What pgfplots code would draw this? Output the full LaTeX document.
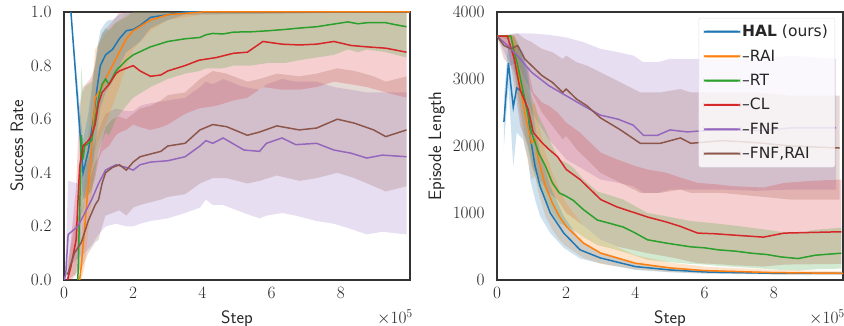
\documentclass[border=0pt]{standalone}
\usepackage{pgfplots}
\pgfplotsset{compat=1.18}
\usepackage{pgfplotstable}
\usepgfplotslibrary{fillbetween}
\usepackage{fontspec}
\newfontfamily\legfont{DejaVu Sans}
\definecolor{cB}{HTML}{1F77B4}
\definecolor{cO}{HTML}{FF7F0E}
\definecolor{cG}{HTML}{2CA02C}
\definecolor{cR}{HTML}{D62728}
\definecolor{cP}{HTML}{9467BD}
\definecolor{cN}{HTML}{8C564B}
\definecolor{axgray}{HTML}{333333}
\definecolor{txt}{HTML}{262626}

% ---------- Success rate ----------
\pgfplotstableread{
x m lo hi
0.20 1.00 1.00 1.00
0.55 0.40 0.30 0.52
0.70 0.48 0.36 0.62
0.85 0.60 0.45 0.76
0.95 0.71 0.55 0.86
1.05 0.80 0.64 0.93
1.20 0.84 0.70 0.96
1.30 0.85 0.72 0.97
1.40 0.86 0.74 0.97
1.50 0.88 0.77 0.98
1.60 0.90 0.80 0.99
1.80 0.93 0.85 1.00
2.00 0.935 0.87 1.00
2.20 0.95 0.89 1.00
2.50 0.98 0.94 1.00
3.00 0.99 0.97 1.00
3.50 1.00 0.99 1.00
10.0 1.00 1.00 1.00
}\tLB
\pgfplotstableread{
x m lo hi
0.45 0.00 0.00 0.02
0.50 0.05 0.00 0.15
0.60 0.20 0.05 0.38
0.70 0.35 0.18 0.55
0.80 0.50 0.30 0.70
0.90 0.68 0.48 0.86
1.00 0.70 0.52 0.88
1.10 0.72 0.55 0.90
1.20 0.75 0.58 0.92
1.40 0.80 0.65 0.95
1.60 0.85 0.72 0.97
1.80 0.90 0.80 0.99
2.00 0.93 0.86 1.00
2.50 0.97 0.93 1.00
3.00 0.99 0.97 1.00
4.00 1.00 0.99 1.00
10.0 1.00 1.00 1.00
}\tLO
\pgfplotstableread{
x m lo hi
0.40 0.00 0.00 0.05
0.46 0.30 0.05 0.55
0.50 0.54 0.25 0.80
0.55 0.45 0.25 0.70
0.60 0.50 0.30 0.72
0.80 0.52 0.33 0.74
0.90 0.60 0.40 0.80
1.00 0.68 0.48 0.88
1.10 0.73 0.52 0.92
1.20 0.75 0.55 0.94
1.30 0.73 0.54 0.93
1.50 0.78 0.60 0.96
1.80 0.82 0.65 0.98
2.00 0.84 0.68 1.00
2.50 0.87 0.72 1.00
3.00 0.89 0.75 1.00
3.50 0.90 0.77 1.00
3.93 0.905 0.78 1.00
4.10 0.915 0.79 1.00
4.30 0.92 0.79 1.00
4.60 0.918 0.79 1.00
4.90 0.925 0.80 1.00
5.40 0.926 0.80 1.00
5.90 0.93 0.81 1.00
6.40 0.935 0.81 1.00
6.80 0.94 0.82 1.00
7.30 0.945 0.83 1.00
7.80 0.955 0.84 1.00
8.20 0.963 0.86 1.00
8.50 0.956 0.85 1.00
8.75 0.96 0.86 1.00
9.30 0.96 0.85 1.00
9.60 0.952 0.84 1.00
9.90 0.945 0.83 1.00
}\tLG
\pgfplotstableread{
x m lo hi
0.10 0.00 0.00 0.02
0.20 0.05 0.00 0.15
0.35 0.15 0.02 0.35
0.45 0.42 0.20 0.65
0.55 0.50 0.30 0.72
0.70 0.52 0.32 0.74
0.80 0.54 0.34 0.76
0.90 0.58 0.38 0.80
1.00 0.66 0.45 0.88
1.10 0.70 0.48 0.92
1.30 0.73 0.50 0.95
1.50 0.77 0.54 0.98
1.60 0.78 0.55 1.00
1.80 0.79 0.56 1.00
2.00 0.80 0.58 1.00
2.20 0.78 0.57 1.00
2.50 0.76 0.56 1.00
2.80 0.765 0.57 1.00
3.00 0.78 0.58 1.00
3.50 0.80 0.62 1.00
3.90 0.82 0.64 1.00
4.40 0.83 0.65 1.00
4.90 0.846 0.67 1.00
5.30 0.85 0.68 1.00
5.75 0.89 0.72 1.00
6.30 0.88 0.71 1.00
6.80 0.877 0.71 1.00
7.30 0.88 0.72 1.00
7.80 0.89 0.74 1.00
8.30 0.875 0.73 1.00
8.75 0.87 0.72 1.00
9.30 0.865 0.70 1.00
9.90 0.85 0.68 1.00
}\tLR
\pgfplotstableread{
x m lo hi
0.00 0.00 0.00 0.00
0.05 0.02 0.00 0.10
0.12 0.17 0.05 0.37
0.40 0.20 0.08 0.36
0.60 0.25 0.10 0.42
0.80 0.30 0.13 0.48
1.00 0.36 0.17 0.56
1.20 0.41 0.20 0.62
1.50 0.43 0.21 0.64
1.80 0.42 0.20 0.63
2.00 0.41 0.20 0.63
2.20 0.43 0.21 0.65
2.50 0.44 0.22 0.66
3.00 0.445 0.23 0.67
3.50 0.46 0.25 0.68
3.93 0.50 0.27 0.72
4.10 0.52 0.30 0.74
4.30 0.51 0.28 0.73
4.60 0.53 0.28 0.75
5.20 0.485 0.25 0.72
5.65 0.48 0.23 0.71
5.85 0.51 0.24 0.73
6.30 0.53 0.25 0.75
6.70 0.505 0.24 0.74
7.30 0.51 0.22 0.74
7.80 0.485 0.21 0.72
8.30 0.473 0.19 0.71
8.75 0.455 0.17 0.70
9.20 0.466 0.18 0.70
9.90 0.46 0.17 0.70
}\tLP
\pgfplotstableread{
x m lo hi
0.10 0.02 0.00 0.06
0.30 0.10 0.02 0.20
0.50 0.14 0.04 0.26
0.70 0.22 0.10 0.36
0.90 0.28 0.14 0.44
1.00 0.30 0.15 0.46
1.10 0.36 0.20 0.52
1.20 0.40 0.24 0.57
1.40 0.42 0.25 0.60
1.60 0.43 0.26 0.61
1.80 0.41 0.24 0.60
2.00 0.44 0.27 0.62
2.20 0.46 0.28 0.64
2.50 0.47 0.29 0.65
2.80 0.48 0.30 0.67
3.00 0.50 0.31 0.69
3.50 0.51 0.32 0.70
3.93 0.56 0.36 0.75
4.30 0.58 0.38 0.78
4.70 0.572 0.38 0.77
5.30 0.54 0.36 0.74
5.65 0.552 0.37 0.75
6.15 0.575 0.39 0.77
6.80 0.56 0.37 0.76
7.30 0.567 0.38 0.77
7.90 0.60 0.40 0.79
8.40 0.585 0.38 0.78
8.95 0.56 0.35 0.76
9.30 0.535 0.33 0.74
9.90 0.56 0.35 0.76
}\tLN

% ---------- Episode length ----------
\pgfplotstableread{
x m lo hi
0.20 2360 2000 2700
0.33 3240 2900 3600
0.47 2580 1700 3400
0.57 2865 2200 3500
0.75 2800 2100 3400
0.90 2500 1800 3100
0.96 2135 1500 2800
1.10 1700 1200 2300
1.25 1390 950 1900
1.54 1000 700 1400
1.93 700 480 950
2.40 450 320 600
2.98 330 250 420
4.00 200 150 260
5.00 150 115 190
6.00 120 95 150
8.00 100 85 120
10.0 100 85 115
}\tRB
\pgfplotstableread{
x m lo hi
0.00 3640 3640 3640
0.40 3640 3600 3660
0.50 3450 3200 3640
0.60 3100 2700 3500
0.80 2500 2000 3000
1.00 2050 1500 2600
1.10 2100 1550 2650
1.20 1800 1300 2350
1.40 1400 950 1900
1.60 1150 750 1600
1.80 950 600 1350
2.00 800 500 1150
2.50 550 330 800
3.00 400 240 600
4.00 250 160 370
5.00 180 120 260
6.00 140 100 200
8.00 110 85 150
10.0 100 80 130
}\tRO
\pgfplotstableread{
x m lo hi
0.00 3640 3640 3640
0.40 3640 3580 3660
0.50 3400 3100 3640
0.60 3200 2800 3550
0.80 2700 2200 3200
1.00 2200 1700 2750
1.20 1900 1400 2450
1.40 1700 1200 2250
1.60 1450 1000 2000
1.80 1300 850 1800
2.00 1250 800 1750
2.20 1190 750 1680
2.50 1050 640 1500
2.90 895 520 1320
3.30 840 470 1260
3.65 790 420 1200
4.00 700 360 1100
4.35 600 300 1000
4.90 550 270 950
5.60 495 240 880
6.00 480 230 860
6.40 450 210 840
6.90 430 195 810
7.35 400 180 780
7.80 380 165 750
8.20 345 150 720
8.70 320 140 700
9.20 370 160 750
9.95 400 170 780
}\tRG
\pgfplotstableread{
x m lo hi
0.00 3640 3640 3640
0.30 3640 3500 3660
0.50 3300 2900 3640
0.67 2835 2300 3400
0.90 2550 2000 3150
1.05 2200 1650 2800
1.30 2050 1450 2650
1.50 1950 1300 2600
1.75 1840 1200 2500
2.00 1650 1000 2350
2.40 1500 850 2200
3.00 1200 600 1900
3.47 1090 500 1800
4.00 1000 440 1700
4.35 940 400 1650
4.90 865 350 1600
5.30 800 310 1530
5.80 700 250 1450
6.30 690 240 1430
6.84 670 220 1400
7.70 640 200 1380
8.30 700 230 1450
9.10 710 235 1480
9.95 720 240 1500
}\tRR
\pgfplotstableread{
x m lo hi
0.00 3640 3640 3640
0.30 3500 3300 3660
0.50 3400 3100 3680
1.00 3100 2500 3680
1.50 2900 2100 3660
2.00 2750 1800 3620
2.50 2600 1650 3550
2.99 2460 1500 3450
3.50 2400 1450 3400
3.94 2310 1400 3350
4.23 2160 1300 3250
4.64 2160 1300 3250
5.00 2240 1350 3300
5.50 2210 1350 3300
6.50 2250 1350 3300
7.50 2230 1330 3300
8.50 2270 1350 3350
9.80 2270 1350 3300
}\tRP
\pgfplotstableread{
x m lo hi
0.00 3640 3640 3640
0.20 3500 3300 3660
0.40 3450 3200 3660
0.60 3500 3250 3680
0.80 3300 3000 3600
1.00 3200 2800 3550
1.30 3050 2500 3450
1.60 2950 2300 3400
1.90 2800 2100 3300
2.00 2850 2150 3350
2.30 2700 1950 3250
2.60 2600 1800 3200
2.99 2420 1600 3100
3.57 2240 1450 2950
4.14 2040 1300 2800
4.72 2040 1300 2800
5.30 2120 1350 2850
5.60 2040 1300 2800
6.50 2080 1300 2800
7.50 2050 1250 2800
8.50 2000 1200 2750
9.90 1970 1200 2750
}\tRN

\newcommand{\band}[3]{%
  \addplot[draw=none, forget plot, name path=#2h] table[x=x,y=hi] {#1};
  \addplot[draw=none, forget plot, name path=#2l] table[x=x,y=lo] {#1};
  \addplot[fill=#3, fill opacity=0.22, draw=none, forget plot] fill between[of=#2h and #2l];
}
\newcommand{\mline}[2]{%
  \addplot[#2, line width=1.5pt, forget plot] table[x=x,y=m] {#1};
}

\pgfplotsset{
  base/.style={
    scale only axis, width=346pt, height=268pt,
    xmin=0, xmax=10, xtick={0,2,4,6,8},
    major tick length=0pt,
    axis line style={axgray, line width=1.2pt},
    tick label style={font=\fontsize{17.5}{20}\selectfont, text=txt},
    xticklabel style={yshift=-4pt},
    yticklabel style={xshift=-9pt},
    label style={font=\sffamily\fontsize{18}{21}\selectfont, text=txt},
    xlabel style={at={(axis description cs:0.5,-0.145)}, anchor=center},
  }
}

\begin{document}
\begin{tikzpicture}
\begin{axis}[base, name=ax1,
  ymin=0, ymax=1, ytick={0,0.2,0.4,0.6,0.8,1.0},
  yticklabel style={/pgf/number format/fixed, /pgf/number format/fixed zerofill, /pgf/number format/precision=1},
  xlabel={Step}, ylabel={Success Rate},
  ylabel style={at={(axis description cs:-0.136,0.5)}, anchor=center},
]
\band{\tLP}{lp}{cP}
\band{\tLN}{ln}{cN}
\band{\tLR}{lr}{cR}
\band{\tLG}{lg}{cG}
\band{\tLO}{lo}{cO}
\band{\tLB}{lb}{cB}
\mline{\tLB}{cB}
\mline{\tLO}{cO}
\mline{\tLG}{cG}
\mline{\tLR}{cR}
\mline{\tLP}{cP}
\mline{\tLN}{cN}
\end{axis}
\node[font=\fontsize{17.5}{20}\selectfont, text=txt] at (331pt,-37pt) {$\times10^5$};

\begin{axis}[base, at={(433pt,0pt)}, name=ax2,
  ymin=0, ymax=4000, ytick={0,1000,2000,3000,4000},
  yticklabel style={/pgf/number format/1000 sep={}},
  xlabel={Step}, ylabel={Episode Length},
  ylabel style={at={(axis description cs:-0.174,0.5)}, anchor=center},
  legend cell align=left,
  legend style={at={(0.977,0.978)}, anchor=north east, draw=black!12, rounded corners=2pt,
    fill=white, fill opacity=0.8, draw opacity=1, text opacity=1, font=\legfont\fontsize{15.5}{18}\selectfont,
    text=txt, row sep=7.5pt, inner xsep=5pt, inner ysep=5pt},
  legend image code/.code={\fill[#1, opacity=1] (0pt,-0.8pt) rectangle (36pt,0.8pt);},
]
\band{\tRP}{rp}{cP}
\band{\tRN}{rn}{cN}
\band{\tRR}{rr}{cR}
\band{\tRG}{rg}{cG}
\band{\tRO}{ro}{cO}
\band{\tRB}{rb}{cB}
\mline{\tRB}{cB}
\mline{\tRO}{cO}
\mline{\tRG}{cG}
\mline{\tRR}{cR}
\mline{\tRP}{cP}
\mline{\tRN}{cN}
\addlegendimage{cB}\addlegendentry{\textbf{HAL} (ours)}
\addlegendimage{cO}\addlegendentry{–RAI}
\addlegendimage{cG}\addlegendentry{–RT}
\addlegendimage{cR}\addlegendentry{–CL}
\addlegendimage{cP}\addlegendentry{–FNF}
\addlegendimage{cN}\addlegendentry{–FNF,RAI}
\end{axis}
\node[font=\fontsize{17.5}{20}\selectfont, text=txt] at (763pt,-37pt) {$\times10^5$};
\pgfresetboundingbox
\path[use as bounding box] (-64pt,-46pt) rectangle (780pt,280pt);
\end{tikzpicture}
\end{document}
